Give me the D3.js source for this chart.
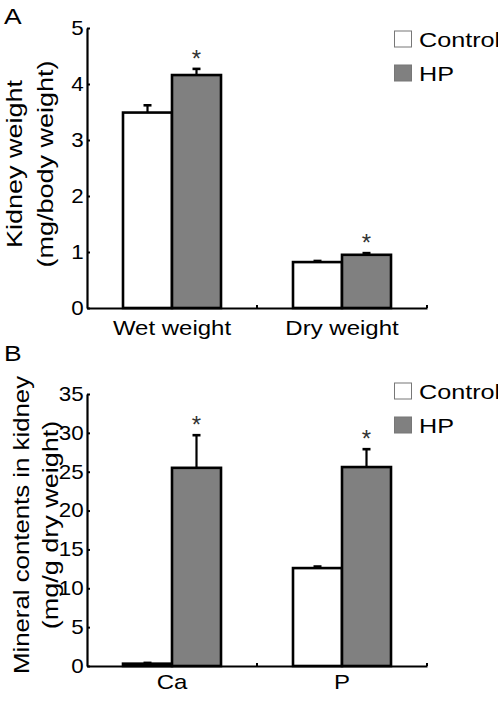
<!DOCTYPE html>
<html>
<head>
<meta charset="utf-8">
<script src="https://cdn.jsdelivr.net/npm/d3@7"></script>
<style>
  html, body { margin: 0; padding: 0; background: #fff; }
  svg { display: block; }
  text { font-family: "Liberation Sans", Arial, sans-serif; fill: #000; }
</style>
</head>
<body>
<svg id="chart" width="498" height="701"></svg>
<script>
// ---------- Data ----------
const seriesNames = ["Control", "HP"];

const categoriesA = ["Wet weight", "Dry weight"];
const controlA = [3.49, 0.82];
const controlErrA = [0.13, 0.02];
const hpA = [4.16, 0.95];
const hpErrA = [0.11, 0.03];
const ticksA = [0, 1, 2, 3, 4, 5];

const categoriesB = ["Ca", "P"];
const controlB = [0.3, 12.6];
const controlErrB = [0.1, 0.2];
const hpB = [25.5, 25.6];
const hpErrB = [4.2, 2.3];
const ticksB = [0, 5, 10, 15, 20, 25, 30, 35];

// ---------- Styles ----------
const fills = { Control: "#ffffff", HP: "#808080" };
const SX = 1.2; // horizontal glyph stretch of the reference font

const svg = d3.select("#chart");

function panel(opts) {
  const { cats, ctrl, ctrlErr, hp, hpErr, ticks, yMax, top, bottom,
          letter, letterY, yLines, yLabelCY, yLabelX, xLabelDY, legendY } = opts;
  const left = 87, right = 427;
  const g = svg.append("g");

  const x = d3.scaleBand().domain(cats).range([left, right]).paddingInner(0).paddingOuter(0);
  const sub = d3.scaleBand().domain(seriesNames).range([0, x.bandwidth()])
    .paddingInner(0).paddingOuter(0.7347);
  const y = d3.scaleLinear().domain([0, yMax]).range([bottom, top]);

  const rows = [];
  cats.forEach((c, i) => {
    rows.push({ cat: c, s: "Control", v: ctrl[i], e: ctrlErr[i], star: false });
    rows.push({ cat: c, s: "HP", v: hp[i], e: hpErr[i], star: true });
  });

  // bars
  g.selectAll("rect.bar").data(rows).join("rect")
    .attr("class", "bar")
    .attr("x", d => x(d.cat) + sub(d.s))
    .attr("y", d => y(d.v))
    .attr("width", sub.bandwidth())
    .attr("height", d => y(0) - y(d.v))
    .attr("fill", d => fills[d.s])
    .attr("stroke", "#000")
    .attr("stroke-width", 2.6);

  // error bars (upper only)
  const cx = d => x(d.cat) + sub(d.s) + sub.bandwidth() / 2;
  g.selectAll("line.err").data(rows).join("line")
    .attr("class", "err")
    .attr("x1", cx).attr("x2", cx)
    .attr("y1", d => y(d.v)).attr("y2", d => y(d.v + d.e))
    .attr("stroke", "#000").attr("stroke-width", 2.2);
  g.selectAll("line.cap").data(rows).join("line")
    .attr("class", "cap")
    .attr("x1", d => cx(d) - 4).attr("x2", d => cx(d) + 4)
    .attr("y1", d => y(d.v + d.e)).attr("y2", d => y(d.v + d.e))
    .attr("stroke", "#000").attr("stroke-width", 2.6);

  // asterisks
  g.selectAll("text.star").data(rows.filter(d => d.star)).join("text")
    .attr("class", "star")
    .attr("x", cx)
    .attr("y", d => y(d.v + d.e) - 2)
    .attr("text-anchor", "middle")
    .style("font-size", "24px")
    .style("fill", "#333")
    .text("*");

  // y axis
  const yAxis = d3.axisLeft(y).tickValues(ticks).tickFormat(d3.format("d"))
    .tickSizeInner(-3).tickSizeOuter(0).tickPadding(3);
  const ya = g.append("g").attr("transform", `translate(${left},0)`).call(yAxis);
  ya.select(".domain").attr("stroke", "#000").attr("stroke-width", 2.2);
  ya.selectAll(".tick line").attr("stroke", "#000").attr("stroke-width", 2);
  ya.selectAll(".tick text")
    .attr("transform", `scale(1.12,1)`)
    .style("font-size", "20px")
    .style("font-family", "Liberation Sans, Arial, sans-serif")
    .attr("fill", "#000");

  // x axis baseline
  const xAxis = d3.axisBottom(x).tickSize(0).tickPadding(xLabelDY);
  const xa = g.append("g").attr("transform", `translate(0,${bottom})`).call(xAxis);
  xa.select(".domain").attr("stroke", "#000").attr("stroke-width", 2.2);
  xa.selectAll(".tick text")
    .attr("transform", `scale(${SX},1)`)
    .attr("x", 0)
    .attr("dy", "0.71em")
    .style("font-size", "20px")
    .style("font-family", "Liberation Sans, Arial, sans-serif")
    .attr("fill", "#000");
  // upward ticks at band boundaries
  g.selectAll("line.xt").data(cats).join("line")
    .attr("class", "xt")
    .attr("x1", d => x(d) + x.bandwidth()).attr("x2", d => x(d) + x.bandwidth())
    .attr("y1", bottom).attr("y2", bottom - 3)
    .attr("stroke", "#000").attr("stroke-width", 2);

  // panel letter
  g.append("text").attr("transform", `translate(4,${letterY}) scale(${SX},1)`)
    .style("font-size", "22px").text(letter);

  // y label (two lines, rotated)
  yLines.forEach((t, i) => {
    g.append("text")
      .attr("transform", `translate(${yLabelX[i]},${yLabelCY}) rotate(-90) scale(${SX},1)`)
      .attr("text-anchor", "middle")
      .style("font-size", opts.yFont[i] + "px")
      .text(t);
  });

  // legend
  seriesNames.forEach((s, i) => {
    const ly = legendY + i * 34;
    g.append("rect").attr("x", 394.5).attr("y", ly).attr("width", 17).attr("height", 16)
      .attr("fill", fills[s]).attr("stroke", "#777").attr("stroke-width", 1);
    g.append("text").attr("transform", `translate(419,${ly + 16}) scale(${SX},1)`)
      .style("font-size", "21px").text(s);
  });
}

panel({
  cats: categoriesA, ctrl: controlA, ctrlErr: controlErrA, hp: hpA, hpErr: hpErrA,
  ticks: ticksA, yMax: 5, top: 28, bottom: 308,
  letter: "A", letterY: 24,
  yLines: ["Kidney weight", "(mg/body weight)"], yFont: [22.5, 22.5],
  yLabelCY: 164, yLabelX: [22, 53],
  xLabelDY: 13, legendY: 31
});

panel({
  cats: categoriesB, ctrl: controlB, ctrlErr: controlErrB, hp: hpB, hpErr: hpErrB,
  ticks: ticksB, yMax: 35, top: 394, bottom: 666,
  letter: "B", letterY: 361,
  yLines: ["Mineral contents in kidney", "(mg/g dry weight)"], yFont: [21.5, 22.5],
  yLabelCY: 525, yLabelX: [28.5, 57.5],
  xLabelDY: 9, legendY: 383
});
</script>
</body>
</html>
